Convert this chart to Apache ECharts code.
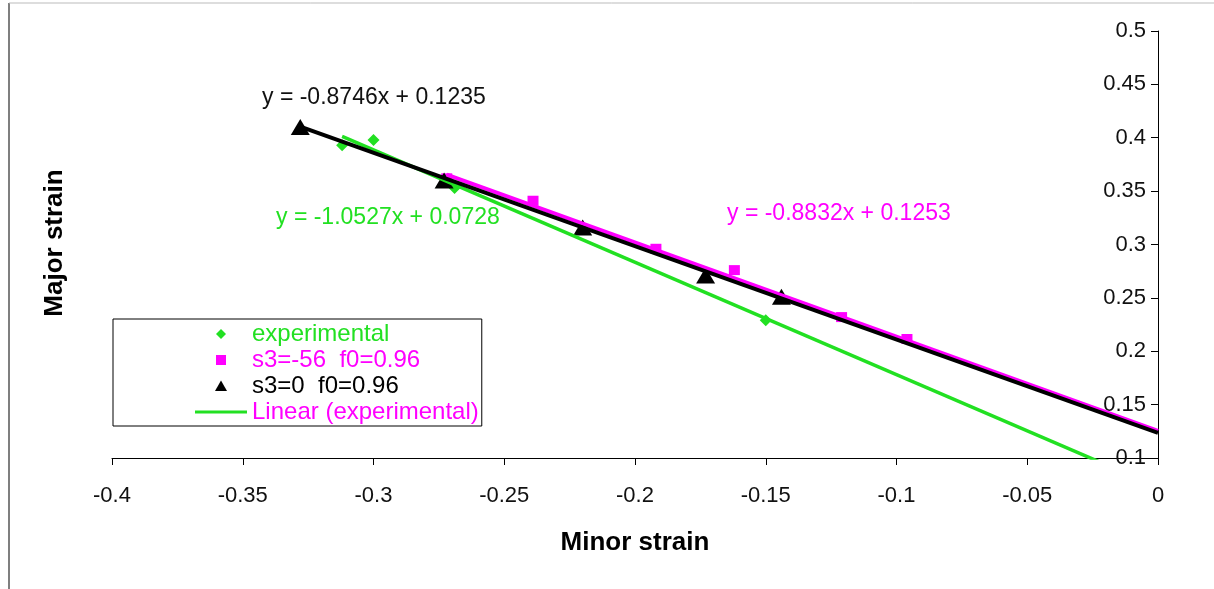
<!DOCTYPE html>
<html><head><meta charset="utf-8">
<script src="https://cdn.jsdelivr.net/npm/echarts@6/dist/echarts.min.js"></script>
<style>html,body{margin:0;padding:0;background:#fff}#c{width:1214px;height:589px}</style>
</head><body><div id="c"></div>
<script>
// experimental (green diamonds)
const expX = [-0.312, -0.300, -0.269, -0.150];
const expY = [0.393, 0.398, 0.353, 0.229];
// s3=-56 f0=0.96 (magenta squares)
const magX = [-0.272, -0.239, -0.192, -0.162, -0.121, -0.096];
const magY = [0.362, 0.341, 0.296, 0.276, 0.232, 0.2115];
// s3=0 f0=0.96 (black triangles)
const blkX = [-0.328, -0.273, -0.220, -0.173, -0.144];
const blkY = [0.410, 0.360, 0.316, 0.271, 0.251];
// trendline coefficients [experimental, s3=-56, s3=0]
const slopes = [-1.0527, -0.8832, -0.8746];
const intercepts = [0.0728, 0.1253, 0.1235];
const equations = ['y = -1.0527x + 0.0728', 'y = -0.8832x + 0.1253', 'y = -0.8746x + 0.1235'];
const seriesNames = ['experimental', 's3=-56  f0=0.96', 's3=0  f0=0.96', 'Linear (experimental)'];

const GREEN = '#22e022', MAG = '#ff00ff', BLK = '#000000';
const FONT = '"Liberation Sans", Arial, sans-serif';

function pts(xs, ys) { return xs.map((x, i) => [x, ys[i]]); }
function trend(i, xs) {
  const x0 = Math.min(...xs), x1 = 0;
  return [[x0, slopes[i] * x0 + intercepts[i]], [x1, slopes[i] * x1 + intercepts[i]]];
}
// legend icons: corner moves keep the 52x12 box so the shape is not stretched
const BOX = 'M0,0M52,12';
const ICON_DIAMOND = 'path://' + BOX + 'M26,1L31,6L26,11L21,6Z';
const ICON_SQUARE = 'path://' + BOX + 'M21,1L31,1L31,11L21,11Z';
const ICON_TRI = 'path://' + BOX + 'M26,0.5L32,11L20,11Z';
const ICON_LINE = 'path://' + BOX + 'M0,4.5L52,4.5L52,7.5L0,7.5Z';

const chart = echarts.init(document.getElementById('c'));
chart.setOption({
  animation: false,
  backgroundColor: '#fff',
  grid: { left: 112, right: 56, top: 31, bottom: 131 },
  xAxis: {
    type: 'value', min: -0.4, max: 0, interval: 0.05,
    position: 'bottom',
    axisLine: { onZero: false, lineStyle: { color: '#000', width: 1 } },
    axisTick: { show: true, length: 7, lineStyle: { color: '#000' } },
    axisLabel: { fontSize: 22, color: '#111', fontFamily: FONT, margin: 27 },
    splitLine: { show: false },
    name: 'Minor strain', nameLocation: 'middle', nameGap: 72,
    nameTextStyle: { fontSize: 26, fontWeight: 'bold', color: '#000', fontFamily: FONT }
  },
  yAxis: {
    type: 'value', min: 0.1, max: 0.5, interval: 0.05,
    position: 'right',
    axisLine: { onZero: false, lineStyle: { color: '#000', width: 1 } },
    axisTick: { show: true, inside: true, length: 7, lineStyle: { color: '#000' } },
    axisLabel: { inside: true, fontSize: 22, color: '#111', fontFamily: FONT, margin: 12 },
    splitLine: { show: false }
  },
  legend: {
    orient: 'vertical', left: 113, top: 319,
    padding: [3, 3, 2, 82],
    itemWidth: 52, itemHeight: 12, itemGap: 2,
    borderColor: '#000', borderWidth: 1, backgroundColor: '#fff',
    textStyle: { fontSize: 24, fontFamily: FONT, lineHeight: 22 },
    data: [
      { name: seriesNames[0], icon: ICON_DIAMOND, itemStyle: { color: GREEN }, textStyle: { color: GREEN } },
      { name: seriesNames[1], icon: ICON_SQUARE, itemStyle: { color: MAG }, textStyle: { color: MAG } },
      { name: seriesNames[2], icon: ICON_TRI, itemStyle: { color: BLK }, textStyle: { color: BLK } },
      { name: seriesNames[3], icon: ICON_LINE, itemStyle: { color: GREEN }, lineStyle: { width: 0 }, textStyle: { color: MAG } }
    ]
  },
  series: [
    { name: seriesNames[0], type: 'scatter', data: pts(expX, expY), symbol: 'diamond', symbolSize: [12, 12], itemStyle: { color: GREEN, opacity: 1 }, z: 2 },
    { name: seriesNames[1], type: 'scatter', data: pts(magX, magY), symbol: 'rect', symbolSize: [11, 10], itemStyle: { color: MAG, opacity: 1 }, z: 2 },
    { name: seriesNames[2], type: 'scatter', data: pts(blkX, blkY), symbol: 'triangle', symbolSize: [19, 16], itemStyle: { color: BLK, opacity: 1 }, z: 2 },
    { name: seriesNames[3], type: 'line', data: trend(0, expX), symbol: 'none', lineStyle: { color: GREEN, width: 3.5 }, itemStyle: { color: GREEN }, z: 3 },
    { name: 'Linear (s3=-56)', type: 'line', data: trend(1, magX), symbol: 'none', lineStyle: { color: MAG, width: 4 }, z: 3 },
    { name: 'Linear (s3=0)', type: 'line', data: trend(2, blkX), symbol: 'none', lineStyle: { color: BLK, width: 4 }, z: 4 }
  ],
  graphic: [
    { type: 'line', shape: { x1: 9, y1: 3, x2: 9, y2: 589 }, style: { stroke: '#555', lineWidth: 1.5 } },
    { type: 'line', shape: { x1: 9, y1: 3, x2: 1214, y2: 3 }, style: { stroke: '#bbb', lineWidth: 1 } },
    { type: 'text', x: 55, y: 243, rotation: Math.PI / 2,
      style: { text: 'Major strain', fontSize: 26, fontWeight: 'bold', fill: '#000', fontFamily: FONT, align: 'center', verticalAlign: 'middle' } },
    { type: 'text', x: 262, y: 98, style: { text: equations[2], fontSize: 23, fill: '#111', fontFamily: FONT, verticalAlign: 'middle' } },
    { type: 'text', x: 276, y: 218, style: { text: equations[0], fontSize: 23, fill: GREEN, fontFamily: FONT, verticalAlign: 'middle' } },
    { type: 'text', x: 727, y: 214, style: { text: equations[1], fontSize: 23, fill: MAG, fontFamily: FONT, verticalAlign: 'middle' } }
  ]
});
</script></body></html>
